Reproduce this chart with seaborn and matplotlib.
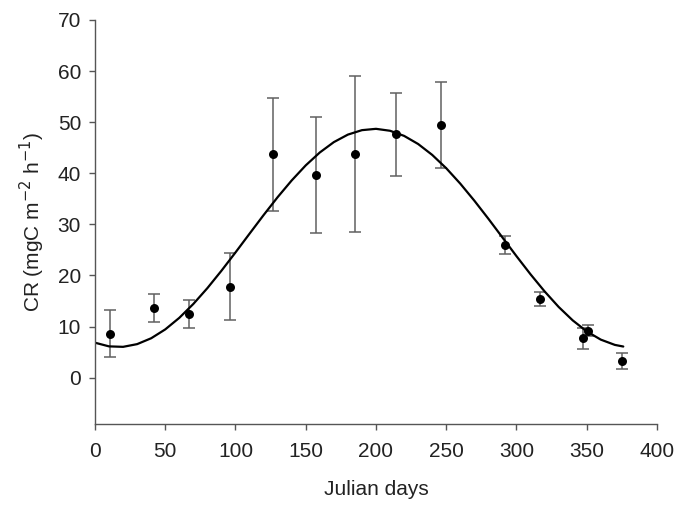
import numpy as np
import pandas as pd
import matplotlib
matplotlib.use("Agg")
import matplotlib.pyplot as plt
import seaborn as sns

# Observed community respiration (mean ± SD) by Julian day
days = [11, 42, 67, 96, 127, 157, 185, 214, 246, 292, 317, 347, 351, 375]
cr_mean = [8.6, 13.6, 12.5, 17.8, 43.7, 39.7, 43.8, 47.6, 49.4, 26.0, 15.4, 7.7, 9.2, 3.3]
cr_sd = [4.6, 2.7, 2.8, 6.6, 11.0, 11.3, 15.3, 8.1, 8.4, 1.8, 1.3, 2.1, 1.1, 1.5]

# Seasonal fitted curve, sampled every 10 days
fit_days = [0, 10, 20, 30, 40, 50, 60, 70, 80, 90, 100, 110, 120, 130, 140, 150,
            160, 170, 180, 190, 200, 210, 220, 230, 240, 250, 260, 270, 280, 290,
            300, 310, 320, 330, 340, 350, 360, 370, 376]
fit_cr = [6.85, 6.13, 6.04, 6.57, 7.72, 9.45, 11.71, 14.43, 17.53, 20.93, 24.51,
          28.18, 31.82, 35.33, 38.60, 41.55, 44.07, 46.10, 47.57, 48.44, 48.70,
          48.32, 47.32, 45.73, 43.60, 40.99, 37.97, 34.64, 31.10, 27.44, 23.78,
          20.23, 16.89, 13.85, 11.22, 9.06, 7.45, 6.42, 6.10]

x_ticks = [0, 50, 100, 150, 200, 250, 300, 350, 400]
y_ticks = [0, 10, 20, 30, 40, 50, 60, 70]

obs = pd.DataFrame({"day": days, "cr": cr_mean, "sd": cr_sd})
fit = pd.DataFrame({"day": fit_days, "cr": fit_cr})

sns.set_theme(style="ticks")
plt.rcParams["font.family"] = ["Liberation Sans", "DejaVu Sans"]

fig = plt.figure(figsize=(6.76, 5.07), dpi=100)
ax = fig.add_axes([0.1405, 0.1643, 0.8314, 0.7963])

axis_grey = "#555555"
text_col = "#222222"
fs = 15

ax.errorbar(obs["day"], obs["cr"], yerr=obs["sd"], fmt="none",
            ecolor="#606060", elinewidth=1.1, capsize=4.5, capthick=1.1, zorder=1)
sns.lineplot(data=fit, x="day", y="cr", ax=ax, color="black", linewidth=1.6,
             sort=False, zorder=2)
sns.scatterplot(data=obs, x="day", y="cr", ax=ax, color="black", s=42,
                edgecolor="black", linewidth=0, zorder=3)

ax.set_xlim(0, 400)
ax.set_ylim(-9, 70)
ax.set_xticks(x_ticks)
ax.set_yticks(y_ticks)
ax.tick_params(axis="both", direction="out", length=4, width=1.0,
               color=axis_grey, labelsize=fs, labelcolor=text_col)
ax.tick_params(axis="y", pad=6)
ax.tick_params(axis="x", pad=9)

for side in ("top", "right"):
    ax.spines[side].set_visible(False)
for side in ("left", "bottom"):
    ax.spines[side].set_color(axis_grey)
    ax.spines[side].set_linewidth(1.0)

ax.set_xlabel("Julian days", fontsize=fs, color=text_col, labelpad=14)
ax.set_ylabel("CR (mgC m$^{-2}$ h$^{-1}$)", fontsize=fs, color=text_col, labelpad=8)

fig.savefig("out.png", dpi=100)
